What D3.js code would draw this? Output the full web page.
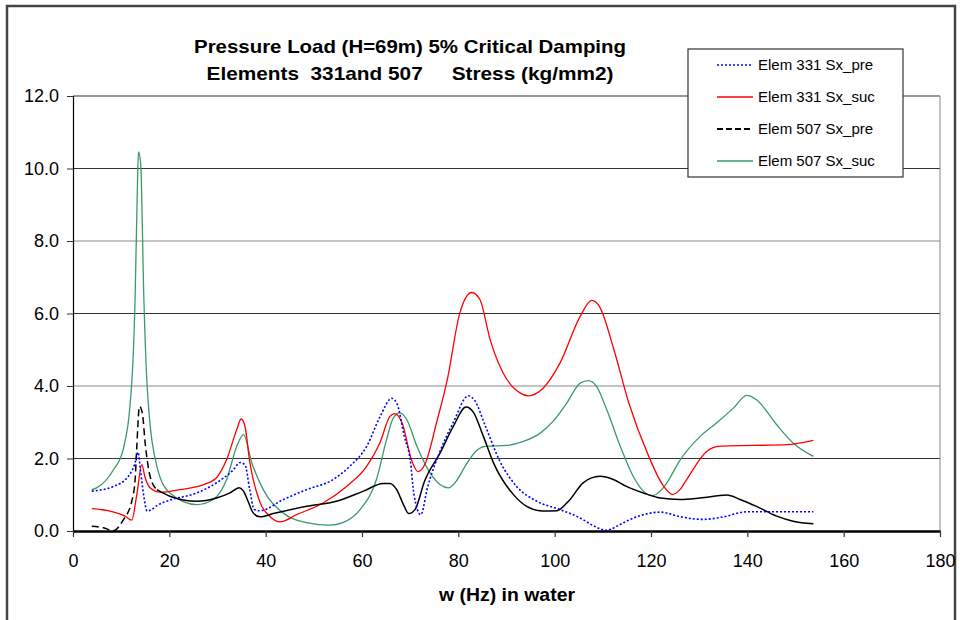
<!DOCTYPE html>
<html>
<head>
<meta charset="utf-8">
<script src="https://cdn.jsdelivr.net/npm/d3@7"></script>
<style>
  body { margin: 0; background: #fff; }
  text { font-family: "Liberation Sans", Arial, Helvetica, sans-serif; }
</style>
</head>
<body>
<svg id="chart"></svg>
<script>
// series values [w (Hz), stress (kg/mm2)]
const elem331Pre = [[3.9,1.10],[8.4,1.23],[11.5,1.51],[12.9,1.88],[13.5,2.17],[14.0,1.69],[14.7,0.96],[15.4,0.55],[16.3,0.59],[17.4,0.70],[20.1,0.85],[25.7,1.05],[29.8,1.33],[33.3,1.69],[34.7,1.89],[35.7,1.83],[36.7,1.14],[37.6,0.60],[38.8,0.56],[43.7,0.87],[48.5,1.14],[54.0,1.42],[57.5,1.79],[61.0,2.34],[63.7,3.14],[66.2,3.66],[67.3,3.50],[68.8,2.60],[70.0,1.97],[70.8,1.00],[72.2,0.45],[73.6,1.20],[76.2,2.20],[78.9,2.98],[82.1,3.73],[83.4,3.60],[85.6,2.90],[88.6,1.93],[92.1,1.23],[96.3,0.82],[101.1,0.59],[105.3,0.36],[108.0,0.15],[110.7,0.02],[113.6,0.18],[114.9,0.27],[118.4,0.45],[122.0,0.52],[126.2,0.39],[130.9,0.32],[135.0,0.39],[139.9,0.53],[146.8,0.53],[153.7,0.53]];

const elem331Suc = [[3.9,0.62],[7.7,0.55],[10.8,0.41],[12.2,0.30],[13.2,0.96],[14.3,1.83],[14.9,1.51],[16.0,1.19],[18.1,1.07],[22.2,1.14],[27.1,1.28],[29.8,1.47],[31.9,1.97],[34.0,2.80],[34.9,3.09],[35.7,2.89],[36.7,1.90],[38.8,0.80],[40.9,0.40],[43.0,0.25],[46.4,0.45],[52.0,0.78],[56.8,1.23],[61.0,1.79],[63.7,2.43],[65.8,3.16],[66.8,3.24],[68.4,2.95],[70.3,1.95],[71.6,1.64],[73.1,1.85],[75.5,3.00],[77.7,4.17],[80.3,6.01],[82.8,6.58],[84.5,6.38],[86.6,5.28],[89.3,4.36],[92.8,3.81],[94.5,3.73],[97.6,3.94],[101.1,4.63],[105.3,5.92],[107.7,6.36],[109.4,6.17],[112.2,5.05],[115.4,3.53],[119.4,2.10],[122.5,1.26],[124.5,1.01],[126.0,1.14],[127.4,1.42],[131.6,2.20],[134.3,2.34],[140.5,2.36],[148.2,2.38],[153.7,2.50]];

const elem507Pre = [[3.9,0.13],[6.3,0.09],[8.4,0.01],[10.4,0.30],[12.2,0.82],[12.9,1.42],[13.2,2.20],[13.8,3.44],[14.4,3.25],[15.0,2.40],[16.0,1.51],[17.4,1.14],[20.1,0.96],[25.7,0.82],[29.8,0.91],[32.6,1.05],[34.5,1.19],[35.4,1.10],[36.4,0.80],[37.4,0.50],[38.8,0.39],[41.6,0.48],[48.5,0.68],[54.7,0.82],[60.3,1.10],[64.4,1.31],[65.8,1.31],[67.2,1.14],[68.6,0.73],[69.7,0.48],[71.0,0.59],[73.0,1.38],[76.2,2.15],[78.9,2.87],[81.6,3.42],[83.1,3.28],[85.2,2.61],[87.3,1.88],[91.4,1.01],[94.2,0.68],[97.6,0.55],[100.4,0.56],[103.2,0.87],[105.9,1.33],[109.4,1.51],[112.2,1.42],[114.9,1.23],[118.4,1.05],[121.9,0.91],[126.0,0.87],[130.2,0.91],[135.7,0.99],[138.5,0.87],[141.9,0.68],[146.1,0.41],[149.5,0.27],[153.7,0.20]];

const elem507Suc = [[3.9,1.14],[4.9,1.19],[8.4,1.69],[10.4,2.24],[12.2,4.09],[12.9,6.47],[13.4,9.68],[13.6,10.46],[14.05,10.15],[14.7,6.47],[15.4,3.99],[17.4,1.79],[20.1,1.05],[25.7,0.73],[29.1,0.87],[31.9,1.42],[34.0,2.34],[35.4,2.66],[37.1,1.89],[39.5,1.14],[43.6,0.50],[48.5,0.23],[53.4,0.16],[56.0,0.23],[59.6,0.59],[63.0,1.42],[65.1,2.52],[66.5,3.12],[67.9,3.26],[69.3,3.07],[71.4,2.34],[74.1,1.61],[76.2,1.28],[77.9,1.19],[79.7,1.40],[81.7,1.85],[83.8,2.22],[85.9,2.34],[90.0,2.36],[93.5,2.47],[97.0,2.70],[99.7,3.03],[102.5,3.53],[105.3,4.08],[107.0,4.15],[108.7,3.99],[110.8,3.35],[113.6,2.34],[116.3,1.51],[118.4,1.10],[120.3,0.98],[121.9,1.10],[123.3,1.33],[126.0,1.95],[130.2,2.61],[133.6,2.98],[137.1,3.39],[139.9,3.74],[141.9,3.62],[146.1,2.93],[149.5,2.43],[153.7,2.06]];

const seriesNames = ["Elem 331 Sx_pre", "Elem 331 Sx_suc", "Elem 507 Sx_pre", "Elem 507 Sx_suc"];
const xTicks = [0, 20, 40, 60, 80, 100, 120, 140, 160, 180];
const yTicks = [0, 2, 4, 6, 8, 10, 12];
const titleLines = ["Pressure Load (H=69m) 5% Critical Damping", "Elements  331and 507     Stress (kg/mm2)"];
const xTitle = "w (Hz) in water";

const W = 960, H = 620;
const margin = { top: 96, right: 20, bottom: 89, left: 73 },
    w = W - margin.left - margin.right,
    h = H - margin.top - margin.bottom;

const svg = d3.select("#chart").attr("width", W).attr("height", H);

// outer chart frame
svg.append("rect")
    .attr("x", 7).attr("y", 6)
    .attr("width", 948).attr("height", 640)
    .attr("fill", "#fff")
    .attr("stroke", "#444")
    .attr("stroke-width", 2.5);

const g = svg.append("g")
    .attr("transform", "translate(" + margin.left + "," + margin.top + ")");

const xScale = d3.scaleLinear().domain([0, 180]).range([0, w]);
const yScale = d3.scaleLinear().domain([0, 12]).range([h, 0]);

// gridlines
g.selectAll(".grid")
    .data(yTicks.filter(d => d > 0))
    .enter().append("line")
    .attr("class", "grid")
    .attr("x1", 0).attr("x2", w)
    .attr("y1", d => yScale(d)).attr("y2", d => yScale(d))
    .attr("stroke", d => (d === 4 || d === 8) ? "#888" : "#333")
    .attr("stroke-width", 1);

// right edge of plot
g.append("line")
    .attr("x1", w).attr("x2", w)
    .attr("y1", 0).attr("y2", h)
    .attr("stroke", "#888");

// y axis
const gY = g.append("g")
    .call(d3.axisLeft(yScale).tickValues(yTicks).tickFormat(d3.format(".1f")).tickSize(6).tickPadding(8));
gY.select(".domain").attr("stroke", "#000").attr("stroke-width", 1.2);
gY.selectAll(".tick line").attr("stroke", "#333");
gY.selectAll(".tick text").attr("font-size", 18).attr("fill", "#000");

// x axis
const gX = g.append("g")
    .attr("transform", "translate(0," + h + ")")
    .call(d3.axisBottom(xScale).tickValues(xTicks).tickSize(6).tickSizeOuter(0).tickPadding(17));
gX.select(".domain").attr("stroke", "#000").attr("stroke-width", 2.5);
gX.selectAll(".tick line").attr("stroke", "#333").attr("stroke-width", 1.2);
gX.selectAll(".tick text").attr("font-size", 18).attr("fill", "#000");

// lines
const line = d3.line()
    .x(d => xScale(d[0]))
    .y(d => yScale(d[1]))
    .curve(d3.curveMonotoneX);

const styles = [
    { data: elem331Pre, color: "#0000ff", width: 1.6, dash: "2,2" },
    { data: elem331Suc, color: "#ff0000", width: 1.3, dash: null },
    { data: elem507Pre, color: "#000000", width: 1.5, dash: null },
    { data: elem507Suc, color: "#3a9a6a", width: 1.3, dash: null }
];

const body = g.append("g");
// green and red under, black and blue on top
[3, 1, 2, 0].forEach(i => {
    const s = styles[i];
    if (i === 2) {
        // dashes show clearly where the points are sparse, at the first peak
        body.append("path")
            .attr("d", line(s.data.filter(d => d[0] <= 17.4)))
            .attr("fill", "none").attr("stroke", s.color)
            .attr("stroke-width", s.width).attr("stroke-dasharray", "7,4");
        body.append("path")
            .attr("d", line(s.data.filter(d => d[0] >= 17.4)))
            .attr("fill", "none").attr("stroke", s.color)
            .attr("stroke-width", s.width);
    } else {
        body.append("path")
            .attr("d", line(s.data))
            .attr("fill", "none").attr("stroke", s.color)
            .attr("stroke-width", s.width)
            .attr("stroke-dasharray", s.dash);
    }
});

// titles (the original face is narrow, so fit to the measured width)
const titleWidths = [432, 407];
svg.selectAll(".title")
    .data(titleLines)
    .enter().append("text")
    .attr("class", "title")
    .attr("x", 410).attr("y", (d, i) => 53 + i * 27)
    .attr("text-anchor", "middle")
    .attr("font-size", 19).attr("font-weight", "bold")
    .attr("textLength", (d, i) => titleWidths[i])
    .attr("lengthAdjust", "spacingAndGlyphs")
    .style("white-space", "pre")
    .text(d => d);

svg.append("text")
    .attr("x", 507).attr("y", 601)
    .attr("text-anchor", "middle")
    .attr("font-size", 18).attr("font-weight", "bold")
    .attr("textLength", 136)
    .attr("lengthAdjust", "spacingAndGlyphs")
    .text(xTitle);

// legend
const legend = svg.append("g");
legend.append("rect")
    .attr("x", 688).attr("y", 49)
    .attr("width", 215).attr("height", 128)
    .attr("fill", "#fff").attr("stroke", "#333").attr("stroke-width", 1.2);

seriesNames.forEach((name, i) => {
    const s = styles[i];
    const y = 65 + i * 32;
    legend.append("line")
        .attr("x1", 717).attr("x2", 753)
        .attr("y1", y).attr("y2", y)
        .attr("stroke", s.color)
        .attr("stroke-width", i === 2 ? 2 : s.width)
        .attr("stroke-dasharray", i === 2 ? "6,3" : s.dash);
    legend.append("text")
        .attr("x", 758).attr("y", y + 5)
        .attr("font-size", 15)
        .text(name);
});
</script>
</body>
</html>
